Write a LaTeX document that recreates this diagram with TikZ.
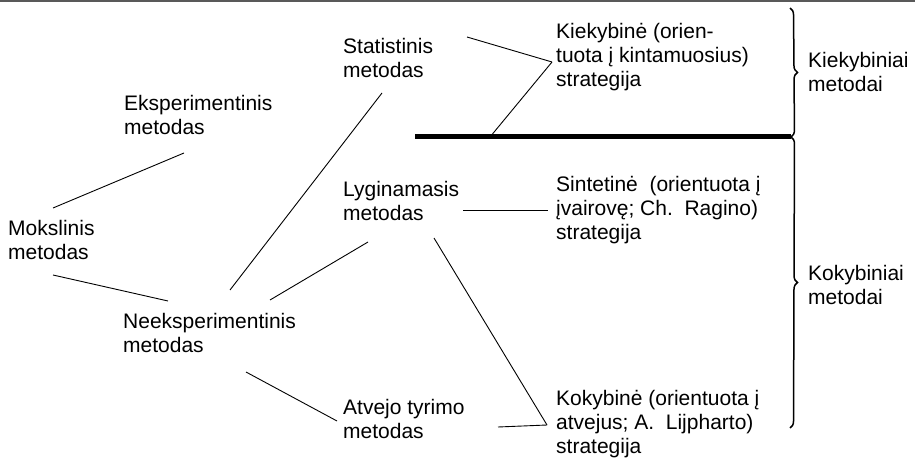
\documentclass[tikz,border=0pt]{standalone}
\usepackage{fontspec}
\setmainfont{Liberation Sans}
\usetikzlibrary{decorations.pathreplacing}
\begin{document}
\begin{tikzpicture}[x=1pt,y=-1pt,
  lbl/.style={anchor=north west, inner sep=0pt, align=left,
    font=\fontsize{21}{24}\selectfont, execute at begin node=\strut},
  conn/.style={line width=0.9pt},
  bar/.style={line width=5pt},
  bracestyle/.style={decorate, decoration={brace, amplitude=7pt}, line width=1.5pt}]
\useasboundingbox (0,0) rectangle (915,462);
\fill[black!65] (0,0) rectangle (915,2.5);
% texts
\node[lbl] (eks) at (124,95.2) {Eksperimentinis\\metodas};
\node[lbl] (mok) at (8,220.2) {Mokslinis\\metodas};
\node[lbl] (nee) at (123,313.2) {Neeksperimentinis\\metodas};
\node[lbl] (sta) at (343,38.2) {Statistinis\\metodas};
\node[lbl] (lyg) at (343,181.2) {Lyginamasis\\metodas};
\node[lbl] (atv) at (343,399.2) {Atvejo tyrimo\\metodas};
\node[lbl] (kie) at (556,23) {Kiekybinė (orien-\\tuota į kintamuosius)\\strategija};
\node[lbl] (sin) at (556,176.2) {Sintetinė\ \ (orientuota į\\įvairovę; Ch.\ \ Ragino)\\strategija};
\node[lbl] (kok) at (556,390.2) {Kokybinė (orientuota į\\atvejus; A.\ \ Lijpharto)\\strategija};
\node[lbl] (kiem) at (808,52.2) {Kiekybiniai\\metodai};
\node[lbl] (kokm) at (808,265.2) {Kokybiniai\\metodai};
% connector ends
\coordinate (eksA) at (184,153);
\coordinate (mokA) at (53,208);
\coordinate (mokB) at (53,275);
\coordinate (neeA) at (168,301);
\coordinate (neeB) at (230,290);
\coordinate (staA) at (382,93);
\coordinate (neeC) at (270,300);
\coordinate (lygA) at (368,242);
\coordinate (neeD) at (246,372);
\coordinate (atvA) at (337,421);
\coordinate (staB) at (467,37);
\coordinate (kieA) at (552,62);
\coordinate (barL) at (415,137);
\coordinate (barR) at (791,137);
\coordinate (barK) at (490,137);
\coordinate (lygB) at (463,210);
\coordinate (sinA) at (548,210);
\coordinate (lygC) at (434,238);
\coordinate (kokA) at (547,425);
\coordinate (atvB) at (498,427);
\coordinate (brT) at (790,8);
\coordinate (brB) at (790,428);
% connectors
\draw[conn] (mokA) -- (eksA);
\draw[conn] (mokB) -- (neeA);
\draw[conn] (neeB) -- (staA);
\draw[conn] (neeC) -- (lygA);
\draw[conn] (neeD) -- (atvA);
\draw[conn] (staB) -- (kieA);
\draw[conn] (barK) -- (kieA);
\draw[conn] (lygB) -- (sinA);
\draw[conn] (lygC) -- (kokA);
\draw[conn] (atvB) -- (kokA);
\draw[bar] (barL) -- (barR);
% braces
\draw[bracestyle] (brT) -- (barR);
\draw[bracestyle] (barR) -- (brB);
\end{tikzpicture}
\end{document}
